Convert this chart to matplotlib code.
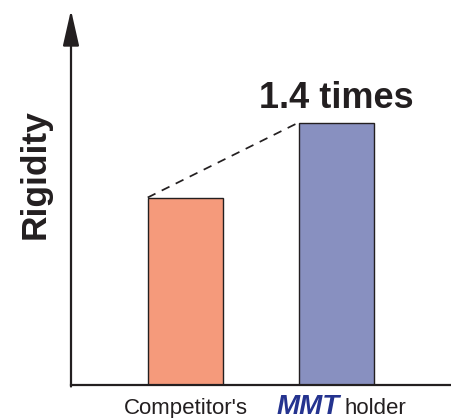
import numpy as np
import matplotlib.pyplot as plt
from matplotlib.transforms import blended_transform_factory

# rigidity relative to competitor's holder
labels = ["Competitor's", "MMT holder"]
rigidity = [1.0, 1.4]
ratio_text = "1.4 times"

plt.rcParams['font.family'] = ['Liberation Sans', 'DejaVu Sans']

fig = plt.figure(figsize=(4.51, 4.18), dpi=100)
ax = fig.add_axes([71 / 451, 33 / 418, 379 / 451, 375 / 418])

x = np.arange(len(rigidity))
w = 0.5
ax.bar(x, rigidity, width=w, color=['#f59a7b', '#8890c0'],
       edgecolor='#231f20', linewidth=1.0, zorder=2)

ax.set_xlim(-0.758, 1.752)
ax.set_ylim(0, 2.0)

# dashed line between the bar tops
ax.plot([x[0] - w / 2, x[1] - w / 2], rigidity, color='#231f20',
        linestyle=(0, (5, 4)), linewidth=1.25, zorder=3)

ax.text(x[1], rigidity[1] + 0.08, ratio_text, ha='center', va='baseline',
        fontsize=26, fontweight='bold', color='#231f20')

# axes: plain bottom line, left line with an arrow head
for s in ['top', 'right', 'left']:
    ax.spines[s].set_visible(False)
ax.spines['bottom'].set_linewidth(1.6)
ax.spines['bottom'].set_color('#231f20')
ax.annotate('', xy=(0, 1.0), xytext=(0, -0.004), xycoords='axes fraction',
            arrowprops=dict(arrowstyle='-|>,head_length=2.2,head_width=0.5',
                            mutation_scale=10, color='#231f20', lw=1.6,
                            shrinkA=0, shrinkB=0))
ax.set_xticks([])
ax.set_yticks([])

fig.text(35 / 451, (418 - 174) / 418, 'Rigidity', rotation=90, ha='center',
         va='center', fontsize=25.5, fontweight='bold', color='#231f20')

# category labels under the bars
tr = blended_transform_factory(ax.transData, ax.transAxes)
ax.text(x[0], -0.077, labels[0], transform=tr, ha='center', va='baseline',
        fontsize=16, color='#231f20')
name, rest = labels[1].split(' ', 1)
ax.text(x[1] + 0.02, -0.077, name, transform=tr, ha='right', va='baseline',
        fontsize=20, fontweight='bold', fontstyle='italic', color='#24338f')
ax.text(x[1] + 0.05, -0.077, rest, transform=tr, ha='left', va='baseline',
        fontsize=16, color='#231f20')

fig.savefig('out.png', dpi=100)
